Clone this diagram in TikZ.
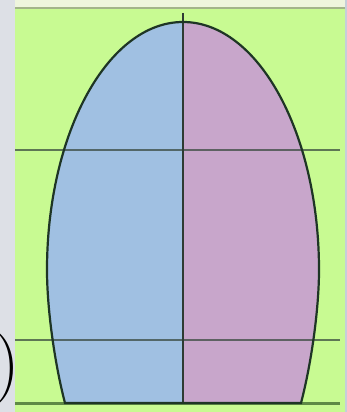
\documentclass[tikz,border=0pt]{standalone}
\usepackage{fontspec}
\definecolor{graybg}{HTML}{DDE0E6}
\definecolor{panelgreen}{HTML}{C8FA92}
\definecolor{topstrip}{HTML}{EEF5DD}
\definecolor{topline}{HTML}{A3B48A}
\definecolor{rightedge}{HTML}{C5CEDA}
\definecolor{eggblue}{HTML}{A0C0E2}
\definecolor{eggpink}{HTML}{C8A6CB}
\definecolor{eggedge}{HTML}{1E3525}
\definecolor{guideline}{HTML}{3A4A40}
\definecolor{baseline}{HTML}{5E8A45}
\tikzset{
  guide/.style={draw=guideline, line width=1.6pt, opacity=0.75},
  groundline/.style={draw=baseline, line width=3pt},
  axisline/.style={draw=guideline!80!black, line width=1.4pt},
  eggoutline/.style={draw=eggedge, line width=2.2pt},
}
\begin{document}
\begin{tikzpicture}[x=1pt,y=-1pt]
\useasboundingbox (0,0) rectangle (347,412);
% background
\fill[graybg] (0,0) rectangle (347,412);
\node[inner sep=0pt, anchor=base east, font=\fontsize{72}{72}\selectfont] (paren) at (20,386) {)};
\fill[panelgreen] (15,0) rectangle (345,412);
\fill[rightedge] (345,0) rectangle (347,412);
\fill[topstrip] (15,0) rectangle (345,7);
\draw[topline, line width=2pt] (15,8) -- (345,8);
% coordinates
\coordinate (top) at (183,22);
\coordinate (bl) at (65,403);
\coordinate (br) at (301,403);
\coordinate (axtop) at (183,13);
\coordinate (axbot) at (183,403);
\coordinate (h1l) at (15,150);
\coordinate (h1r) at (340,150);
\coordinate (h2l) at (15,340);
\coordinate (h2r) at (340,340);
\coordinate (gl) at (15,403);
\coordinate (gr) at (340,403);
\def\eggpath{(bl) .. controls (55,365) and (47,310) .. (47,270)
  .. controls (47,133) and (108,22) .. (top)
  .. controls (258,22) and (319,133) .. (319,270)
  .. controls (319,310) and (311,365) .. (br) -- cycle}
\begin{scope}
  \clip \eggpath;
  \fill[eggblue] (0,0) rectangle (183,412);
  \fill[eggpink] (183,0) rectangle (347,412);
\end{scope}
\draw[guide] (h1l) -- (h1r);
\draw[guide] (h2l) -- (h2r);
\draw[groundline] (gl) -- (gr);
\draw[axisline] (axtop) -- (axbot);
\draw[eggoutline] \eggpath;
\end{tikzpicture}
\end{document}
